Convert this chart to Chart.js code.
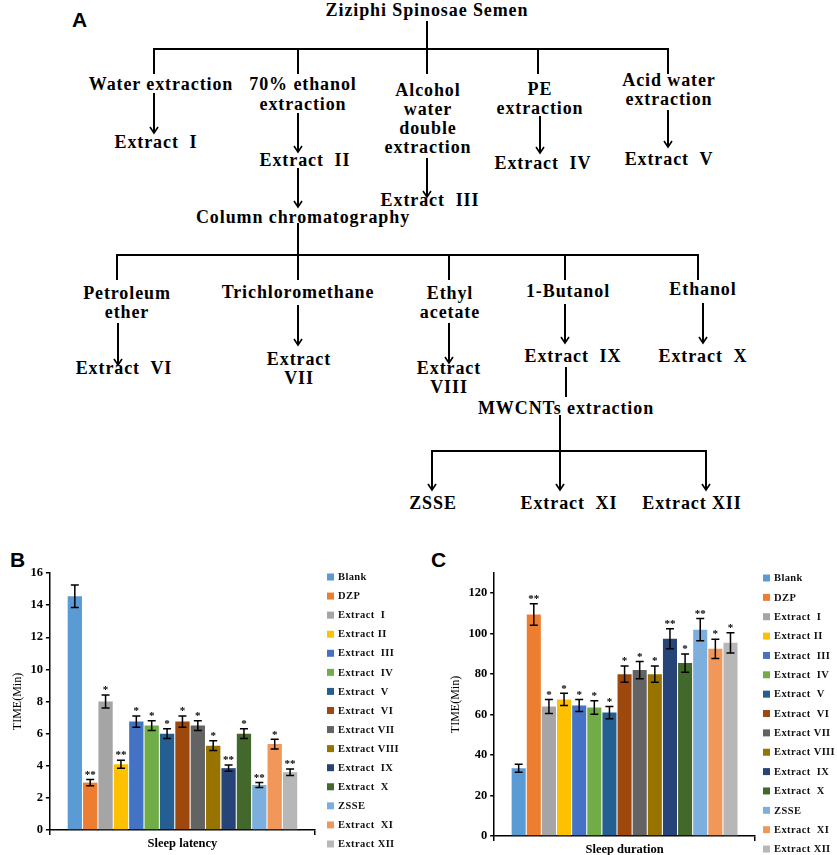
<!DOCTYPE html>
<html>
<head>
<meta charset="utf-8">
<script src="https://cdn.jsdelivr.net/npm/chart.js@4/dist/chart.umd.min.js"></script>
<style>
  body { margin: 0; background: #fff; width: 837px; height: 855px; position: relative; overflow: hidden; }
  #flow { position: absolute; left: 0; top: 0; }
  #flow text { font-family: "Liberation Serif", "Times New Roman", serif; font-weight: bold; font-size: 18px; letter-spacing: 0.9px; text-anchor: middle; dominant-baseline: central; white-space: pre; }
  #flow line { stroke: #000; stroke-width: 2; }
  .panel { position: absolute; font-family: "Liberation Sans", Arial, sans-serif; font-weight: bold; font-size: 21px; }
  canvas { position: absolute; }
</style>
</head>
<body>

<svg id="flow" width="837" height="540">
  <defs>
    <marker id="ah" viewBox="-1 -5 9 10" refX="6" refY="0" markerWidth="9" markerHeight="10" markerUnits="userSpaceOnUse" orient="auto">
      <path d="M0,-4 L6,0 L0,4" fill="none" stroke="#000" stroke-width="1.6"/>
    </marker>
  </defs>
  <!-- top level -->
  <text x="427" y="10">Ziziphi Spinosae Semen</text>
  <line x1="427" y1="21" x2="427" y2="49"/>
  <line x1="153" y1="49" x2="669" y2="49"/>
  <line x1="154" y1="48" x2="154" y2="74"/>
  <line x1="298" y1="48" x2="298" y2="74"/>
  <line x1="427" y1="48" x2="427" y2="74"/>
  <line x1="538" y1="48" x2="538" y2="74"/>
  <line x1="668" y1="48" x2="668" y2="74"/>

  <text x="161" y="84">Water extraction</text>
  <line x1="154" y1="93" x2="154" y2="133" marker-end="url(#ah)"/>
  <text x="156" y="142">Extract  I</text>

  <text x="303" y="84">70% ethanol</text>
  <text x="303" y="104">extraction</text>
  <line x1="298" y1="113" x2="298" y2="152" marker-end="url(#ah)"/>
  <text x="305" y="160">Extract  II</text>
  <line x1="298" y1="168" x2="298" y2="207" marker-end="url(#ah)"/>
  <text x="303" y="217">Column chromatography</text>

  <text x="428" y="90">Alcohol</text>
  <text x="428" y="109">water</text>
  <text x="428" y="128">double</text>
  <text x="428" y="147">extraction</text>
  <line x1="427" y1="158" x2="427" y2="197" marker-end="url(#ah)"/>
  <text x="430" y="200">Extract  III</text>

  <text x="540" y="89">PE</text>
  <text x="540" y="108">extraction</text>
  <line x1="540" y1="116" x2="540" y2="153" marker-end="url(#ah)"/>
  <text x="543" y="163">Extract  IV</text>

  <text x="669" y="80">Acid water</text>
  <text x="669" y="99">extraction</text>
  <line x1="668" y1="110" x2="668" y2="147" marker-end="url(#ah)"/>
  <text x="669" y="159">Extract  V</text>

  <!-- column chromatography level -->
  <line x1="298" y1="223" x2="298" y2="255"/>
  <line x1="116" y1="255" x2="699" y2="255"/>
  <line x1="117" y1="254" x2="117" y2="280"/>
  <line x1="298" y1="254" x2="298" y2="280"/>
  <line x1="449" y1="254" x2="449" y2="280"/>
  <line x1="565" y1="254" x2="565" y2="280"/>
  <line x1="698" y1="254" x2="698" y2="280"/>

  <text x="127" y="293">Petroleum</text>
  <text x="127" y="312">ether</text>
  <line x1="118" y1="323" x2="118" y2="365" marker-end="url(#ah)"/>
  <text x="124" y="368">Extract  VI</text>

  <text x="298" y="292">Trichloromethane</text>
  <line x1="298" y1="305" x2="298" y2="345" marker-end="url(#ah)"/>
  <text x="299" y="359">Extract</text>
  <text x="299" y="378">VII</text>

  <text x="450" y="293">Ethyl</text>
  <text x="450" y="312">acetate</text>
  <line x1="449" y1="323" x2="449" y2="363" marker-end="url(#ah)"/>
  <text x="449" y="368">Extract</text>
  <text x="449" y="387">VIII</text>

  <text x="568" y="291">1-Butanol</text>
  <line x1="565" y1="304" x2="565" y2="343" marker-end="url(#ah)"/>
  <text x="573" y="356">Extract  IX</text>
  <line x1="566" y1="367" x2="566" y2="397"/>
  <text x="566" y="408">MWCNTs extraction</text>
  <line x1="560" y1="415" x2="560" y2="451"/>
  <line x1="431" y1="451" x2="707" y2="451"/>
  <line x1="432" y1="450" x2="432" y2="490" marker-end="url(#ah)"/>
  <line x1="560" y1="450" x2="560" y2="490" marker-end="url(#ah)"/>
  <line x1="706" y1="450" x2="706" y2="490" marker-end="url(#ah)"/>
  <text x="433" y="503">ZSSE</text>
  <text x="569" y="503">Extract  XI</text>
  <text x="692" y="503">Extract XII</text>

  <text x="703" y="289">Ethanol</text>
  <line x1="703" y1="303" x2="703" y2="343" marker-end="url(#ah)"/>
  <text x="703" y="356">Extract  X</text>
</svg>

<div class="panel" style="left:72px; top:8px;">A</div>
<div class="panel" style="left:10px; top:548px;">B</div>
<div class="panel" style="left:431px; top:548px;">C</div>

<canvas id="chartB" width="420" height="300" style="left:0; top:555px;"></canvas>
<canvas id="chartC" width="417" height="300" style="left:420px; top:555px;"></canvas>

<script>
const groups = ['Blank', 'DZP', 'Extract  I', 'Extract II', 'Extract  III', 'Extract  IV', 'Extract  V',
    'Extract  VI', 'Extract VII', 'Extract VIII', 'Extract  IX', 'Extract  X', 'ZSSE', 'Extract  XI', 'Extract XII'];
const colors = ['#5B9BD5', '#ED7D31', '#A5A5A5', '#FFC000', '#4472C4', '#70AD47', '#255E91',
    '#9E480E', '#636363', '#997300', '#264478', '#43682B', '#7CAFDD', '#F1975A', '#B7B7B7'];

// panel B: sleep latency (min)
const latency    = [14.55, 2.95, 8.0, 4.1, 6.75, 6.5, 6.0, 6.75, 6.5, 5.25, 3.85, 6.0, 2.8, 5.35, 3.6];
const latencyErr = [0.7, 0.2, 0.4, 0.25, 0.35, 0.3, 0.3, 0.35, 0.3, 0.3, 0.2, 0.3, 0.15, 0.3, 0.2];
const latencySig = ['', '**', '*', '**', '*', '*', '*', '*', '*', '*', '**', '*', '**', '*', '**'];

// panel C: sleep duration (min)
const duration    = [33.5, 109.5, 64, 67.5, 64.5, 63.5, 61, 80, 82, 80, 97.5, 85.5, 102, 92.5, 95.5];
const durationErr = [2, 5.3, 3.5, 3, 3, 3.3, 3, 4, 4.3, 4, 5, 4.5, 5.5, 4.8, 5];
const durationSig = ['', '**', '*', '*', '*', '*', '*', '*', '*', '*', '**', '*', '**', '*', '*'];

const serif = '"Liberation Serif", "Times New Roman", serif';

// error bars + significance stars, placed with the y scale
const errorBars = {
    id: 'errorBars',
    afterDatasetsDraw(chart, args, opts) {
        const ctx = chart.ctx;
        const y = chart.scales.y;
        ctx.save();
        ctx.strokeStyle = '#000';
        ctx.fillStyle = '#000';
        ctx.lineWidth = 1.5;
        ctx.font = 'bold 11px ' + serif;
        ctx.textAlign = 'center';
        ctx.textBaseline = 'bottom';
        chart.data.datasets.forEach((ds, i) => {
            const bar = chart.getDatasetMeta(i).data[0];
            const v = ds.data[0], e = opts.err[i];
            const top = y.getPixelForValue(v + e), bot = y.getPixelForValue(v - e);
            ctx.beginPath();
            ctx.moveTo(bar.x, top); ctx.lineTo(bar.x, bot);
            ctx.moveTo(bar.x - 4, top); ctx.lineTo(bar.x + 4, top);
            ctx.moveTo(bar.x - 4, bot); ctx.lineTo(bar.x + 4, bot);
            ctx.stroke();
            if (opts.sig[i]) ctx.fillText(opts.sig[i], bar.x, top + 1);
        });
        ctx.restore();
    }
};

// vertical legend at a fixed spot on the right
const sideLegend = {
    id: 'sideLegend',
    afterDraw(chart, args, opts) {
        const ctx = chart.ctx;
        ctx.save();
        ctx.font = 'bold 10.5px ' + serif;
        ctx.letterSpacing = '0.4px';
        ctx.textBaseline = 'middle';
        ctx.textAlign = 'left';
        chart.data.datasets.forEach((ds, i) => {
            const cy = opts.y0 + i * opts.step;
            ctx.fillStyle = ds.backgroundColor;
            ctx.fillRect(opts.x, cy - 3.5, 7, 7);
            ctx.fillStyle = '#111';
            ctx.fillText(ds.label, opts.x + 11, cy + 0.5);
        });
        ctx.restore();
    }
};

function makeChart(id, label, values, err, sig, max, step, pad, leg) {
    return new Chart(document.getElementById(id), {
        type: 'bar',
        data: {
            labels: [label],
            datasets: groups.map((g, i) => ({
                label: g,
                data: [values[i]],
                backgroundColor: colors[i],
                barPercentage: 0.93,
                categoryPercentage: 0.87
            }))
        },
        options: {
            responsive: false,
            animation: false,
            layout: { padding: pad },
            plugins: {
                legend: { display: false },
                tooltip: { enabled: false },
                errorBars: { err: err, sig: sig },
                sideLegend: leg
            },
            scales: {
                x: {
                    grid: { drawOnChartArea: false, drawTicks: true, tickLength: 5, color: '#000', lineWidth: 1.5 },
                    border: { color: '#000', width: 1.5 },
                    ticks: { color: '#000', padding: 1, font: { family: serif, size: 12.5, weight: 'bold' } }
                },
                y: {
                    min: 0, max: max,
                    afterBuildTicks: s => { s.ticks = s.ticks.filter(t => t.value % step === 0); },
                    ticks: { stepSize: step, color: '#000', padding: 3, font: { family: serif, size: 12.5, weight: 'bold' } },
                    grid: { drawOnChartArea: false, drawTicks: true, tickLength: 4, color: '#000', lineWidth: 1.5 },
                    border: { color: '#000', width: 1.5 },
                    title: { display: true, text: 'TIME(Min)', color: '#000', padding: 2, font: { family: serif, size: 12 } }
                }
            }
        },
        plugins: [errorBars, sideLegend]
    });
}

makeChart('chartB', 'Sleep latency', latency, latencyErr, latencySig, 16, 2,
    { top: 18, right: 105, left: 9, bottom: 3 }, { x: 327, y0: 22, step: 19.07 });
makeChart('chartC', 'Sleep duration', duration, durationErr, durationSig, 130, 20,
    { top: 18, right: 82, left: 27, bottom: -3 }, { x: 343, y0: 23, step: 19.36 });
</script>
</body>
</html>
